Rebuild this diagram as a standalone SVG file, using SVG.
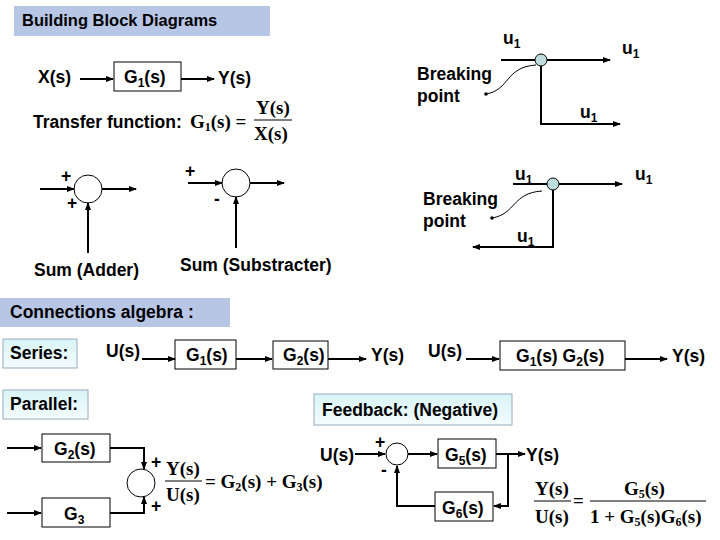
<svg xmlns="http://www.w3.org/2000/svg" width="720" height="540" viewBox="0 0 720 540">
<defs>
<marker id="ar" markerWidth="8" markerHeight="6" refX="7" refY="3" orient="auto" markerUnits="userSpaceOnUse"><path d="M0,0 L8,3 L0,6 z" fill="#000"/></marker>
<marker id="dot" markerWidth="4" markerHeight="4" refX="2" refY="2" markerUnits="userSpaceOnUse"><circle cx="2" cy="2" r="1.8" fill="#000"/></marker>
<linearGradient id="cy" x1="0" y1="0" x2="0" y2="1"><stop offset="0" stop-color="#d8f4f8"/><stop offset="1" stop-color="#f4fcfc"/></linearGradient>
</defs>
<style>
text{font-family:"Liberation Sans",Arial,sans-serif;font-weight:bold;font-size:17.5px;fill:#000}
.m{font-family:"Liberation Serif","Times New Roman",serif;font-size:19px}
.sub{font-size:12px}
.box{fill:#fff;stroke:#000;stroke-width:1}
.ln{fill:none;stroke:#000;stroke-width:2}
.a{fill:none;stroke:#000;stroke-width:2;marker-end:url(#ar)}
.th{fill:none;stroke:#000;stroke-width:1}
.band{fill:#b8c6e6}
.lab{fill:url(#cy);stroke:#9ab;stroke-width:1}
</style>
<rect class="band" x="14" y="6" width="256" height="30"/>
<text x="22" y="26" style="font-size:16.5px">Building Block Diagrams</text>

<g id="g1"><rect class="box" x="114" y="62" width="67" height="29"/><text x="124" y="83">G<tspan class="sub" dy="4">1</tspan><tspan dy="-4">(s)</tspan></text></g>
<text x="38" y="83">X(s)</text>
<text x="218" y="84">Y(s)</text>
<text x="33" y="128">Transfer function:</text>
<text class="m" x="190" y="128">G<tspan class="sub" dy="3">1</tspan><tspan dy="-3">(s) =</tspan></text>
<text class="m" x="256" y="114">Y(s)</text>
<line class="th" x1="254" y1="120" x2="292" y2="120"/>
<text class="m" x="254" y="140">X(s)</text>

<g id="adder"><circle cx="88" cy="189" r="14" fill="#fff" stroke="#000"/></g>
<text x="61" y="182">+</text><text x="67" y="209">+</text>
<text x="34" y="276">Sum (Adder)</text>
<g id="sub"><circle cx="236" cy="183" r="14" fill="#fff" stroke="#000"/></g>
<text x="185" y="177">+</text><text x="214" y="205">-</text>
<text x="180" y="271">Sum (Substracter)</text>

<g id="bp1"><circle cx="541" cy="60" r="6" fill="#bfdcdc" stroke="#000"/></g>
<text x="503" y="44">u<tspan class="sub" dy="4">1</tspan></text>
<text x="622" y="54">u<tspan class="sub" dy="4">1</tspan></text>
<text x="580" y="118">u<tspan class="sub" dy="4">1</tspan></text>
<text x="417" y="80">Breaking</text><text x="417" y="102">point</text>
<g id="bp2"><circle cx="553" cy="184" r="6" fill="#bfdcdc" stroke="#000"/></g>
<text x="515" y="180">u<tspan class="sub" dy="4">1</tspan></text>
<text x="635" y="180">u<tspan class="sub" dy="4">1</tspan></text>
<text x="517" y="242">u<tspan class="sub" dy="4">1</tspan></text>
<text x="423" y="205">Breaking</text><text x="423" y="227">point</text>

<rect class="band" x="0" y="298" width="230" height="29"/>
<text x="10" y="318">Connections algebra :</text>
<rect class="lab" x="3" y="339" width="74" height="29"/><text x="10" y="359">Series:</text>
<text x="106" y="357">U(s)</text>
<g id="s1"><rect class="box" x="175" y="340" width="61" height="29"/><text x="186" y="361">G<tspan class="sub" dy="4">1</tspan><tspan dy="-4">(s)</tspan></text></g>
<g id="s2"><rect class="box" x="273" y="341" width="55" height="28"/><text x="283" y="361">G<tspan class="sub" dy="4">2</tspan><tspan dy="-4">(s)</tspan></text></g>
<text x="371" y="361">Y(s)</text>
<text x="428" y="357">U(s)</text>
<g id="s12"><rect class="box" x="500" y="341" width="125" height="29"/><text x="516" y="362">G<tspan class="sub" dy="4">1</tspan><tspan dy="-4">(s) G</tspan><tspan class="sub" dy="4">2</tspan><tspan dy="-4">(s)</tspan></text></g>
<text x="672" y="362">Y(s)</text>

<rect class="lab" x="3" y="390" width="85" height="29"/><text x="10" y="410">Parallel:</text>
<g id="p2"><rect class="box" x="42" y="434" width="68" height="28"/><text x="54" y="455">G<tspan class="sub" dy="4">2</tspan><tspan dy="-4">(s)</tspan></text></g>
<g id="p3"><rect class="box" x="42" y="498" width="68" height="29"/><text x="64" y="520">G<tspan class="sub" dy="4">3</tspan></text></g>
<g id="psum"><circle cx="141" cy="483" r="14" fill="#fff" stroke="#000"/></g>
<text x="151" y="468">+</text><text x="151" y="512">+</text>
<text class="m" x="166" y="475">Y(s)</text>
<line class="th" x1="165" y1="481" x2="202" y2="481"/>
<text class="m" x="166" y="501">U(s)</text>
<text class="m" x="205" y="488">= G<tspan class="sub" dy="3">2</tspan><tspan dy="-3">(s) + G</tspan><tspan class="sub" dy="3">3</tspan><tspan dy="-3">(s)</tspan></text>

<rect class="lab" x="314" y="394" width="198" height="31"/><text x="322" y="416">Feedback: (Negative)</text>
<text x="320" y="461">U(s)</text>
<g id="fsum"><circle cx="397" cy="454" r="11" fill="#fff" stroke="#000"/></g>
<text x="375" y="448">+</text><text x="381" y="476">-</text>
<g id="g5"><rect class="box" x="438" y="439" width="58" height="29"/><text x="445" y="461">G<tspan class="sub" dy="4">5</tspan><tspan dy="-4">(s)</tspan></text></g>
<text x="526" y="461">Y(s)</text>
<g id="g6"><rect class="box" x="435" y="492" width="58" height="29"/><text x="442" y="514">G<tspan class="sub" dy="4">6</tspan><tspan dy="-4">(s)</tspan></text></g>
<text class="m" x="535" y="495">Y(s)</text>
<line class="th" x1="534" y1="501" x2="571" y2="501"/>
<text class="m" x="535" y="523">U(s)</text>
<text class="m" x="573" y="507">=</text>
<text class="m" x="624" y="495">G<tspan class="sub" dy="3">5</tspan><tspan dy="-3">(s)</tspan></text>
<line class="th" x1="590" y1="501" x2="706" y2="501"/>
<text class="m" x="590" y="523">1 + G<tspan class="sub" dy="3">5</tspan><tspan dy="-3">(s)G</tspan><tspan class="sub" dy="3">6</tspan><tspan dy="-3">(s)</tspan></text>

<g id="connectors">
<line class="a" x1="80" y1="79" x2="113" y2="79"/>
<line class="a" x1="181" y1="79" x2="214" y2="79"/>
<line class="a" x1="40" y1="189" x2="74" y2="189"/>
<line class="a" x1="88" y1="253" x2="88" y2="203"/>
<line class="a" x1="102" y1="189" x2="136" y2="189"/>
<line class="a" x1="188" y1="183" x2="222" y2="183"/>
<line class="a" x1="236" y1="248" x2="236" y2="197"/>
<line class="a" x1="250" y1="183" x2="284" y2="183"/>
<line class="ln" x1="501" y1="60" x2="535" y2="60"/>
<line class="a" x1="547" y1="60" x2="610" y2="60"/>
<polyline class="a" points="541,66 541,124 620,124"/>
<path class="th" d="M536,65 C505,67 510,90 486,94" marker-end="url(#dot)"/>
<line class="ln" x1="513" y1="184" x2="547" y2="184"/>
<line class="a" x1="559" y1="184" x2="622" y2="184"/>
<polyline class="a" points="553,190 553,247 473,247"/>
<path class="th" d="M542,191 C512,193 516,214 492,218" marker-end="url(#dot)"/>
<line class="a" x1="142" y1="359" x2="175" y2="359"/>
<line class="a" x1="236" y1="359" x2="272" y2="359"/>
<line class="a" x1="328" y1="359" x2="366" y2="359"/>
<line class="a" x1="466" y1="359" x2="499" y2="359"/>
<line class="a" x1="625" y1="359" x2="667" y2="359"/>
<line class="a" x1="7" y1="448" x2="41" y2="448"/>
<line class="a" x1="7" y1="513" x2="41" y2="513"/>
<polyline class="a" points="110,448 144,448 144,469"/>
<polyline class="a" points="110,513 144,513 144,497"/>
<line class="a" x1="355" y1="454" x2="385" y2="454"/>
<line class="a" x1="408" y1="454" x2="437" y2="454"/>
<line class="ln" x1="496" y1="454" x2="508" y2="454"/>
<line class="a" x1="508" y1="454" x2="525" y2="454"/>
<polyline class="a" points="508,454 508,506 494,506"/>
<polyline class="a" points="435,506 397,506 397,466"/>
</g>
</svg>
